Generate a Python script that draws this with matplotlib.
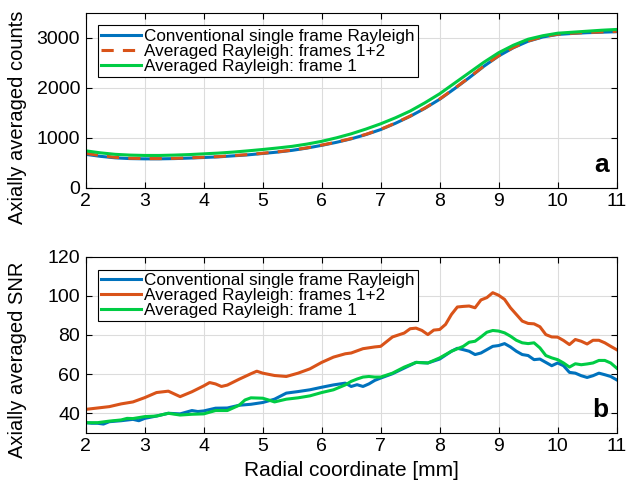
import numpy as np
import matplotlib
matplotlib.use("Agg")
import matplotlib.pyplot as plt

plt.rcParams['font.family'] = ['Liberation Sans', 'DejaVu Sans']

# ---- panel a: axially averaged counts (read at 0.25 mm steps)
xa = [2.0, 2.25, 2.5, 2.75, 3.0, 3.25, 3.5, 3.75, 4.0, 4.25, 4.5, 4.75, 5.0,
      5.25, 5.5, 5.75, 6.0, 6.25, 6.5, 6.75, 7.0, 7.25, 7.5, 7.75, 8.0, 8.25,
      8.5, 8.75, 9.0, 9.25, 9.5, 9.75, 10.0, 10.25, 10.5, 10.75, 11.0]
counts_conv = [670, 630, 600, 585, 580, 580, 585, 595, 607, 620, 640, 660, 687,
               715, 750, 795, 850, 910, 980, 1065, 1165, 1290, 1430, 1590, 1770, 1980,
               2200, 2430, 2635, 2800, 2930, 3015, 3065, 3085, 3100, 3110, 3120]
counts_avg12 = [690, 645, 610, 592, 585, 585, 590, 600, 612, 625, 645, 665, 692,
                720, 755, 800, 855, 915, 985, 1070, 1170, 1295, 1435, 1595, 1775, 1985,
                2205, 2435, 2640, 2805, 2935, 3020, 3070, 3090, 3105, 3115, 3125]
counts_avg1 = [740, 700, 670, 655, 648, 648, 655, 665, 680, 695, 715, 740, 767,
               797, 830, 875, 930, 1000, 1080, 1175, 1280, 1400, 1535, 1700, 1880, 2090,
               2300, 2510, 2700, 2850, 2970, 3040, 3090, 3110, 3130, 3150, 3165]

# ---- panel b: axially averaged SNR
xb_avg12 = [2.0, 2.2, 2.4, 2.6, 2.8, 3.0, 3.2, 3.4, 3.6, 3.8, 4.0, 4.1, 4.2, 4.3,
            4.4, 4.6, 4.8, 4.9, 5.0, 5.2, 5.4, 5.6, 5.8, 6.0, 6.2, 6.4, 6.5, 6.7,
            6.9, 7.0, 7.2, 7.4, 7.5, 7.6, 7.7, 7.8, 7.9, 8.0, 8.1, 8.2, 8.3, 8.4,
            8.5, 8.6, 8.7, 8.8, 8.9, 9.0, 9.1, 9.2, 9.3, 9.4, 9.5, 9.6, 9.7, 9.8,
            9.9, 10.0, 10.1, 10.2, 10.3, 10.4, 10.5, 10.6, 10.7, 10.8, 10.9, 11.0]
snr_avg12 = [42.0, 42.7, 43.4, 44.8, 45.8, 48.0, 50.6, 51.3, 48.5, 51.0, 54.0, 55.7,
             55.0, 53.7, 54.4, 57.4, 60.2, 61.5, 60.5, 59.3, 58.8, 60.5, 62.7, 66.0,
             68.7, 70.4, 70.8, 73.0, 73.9, 74.2, 79.0, 81.0, 83.2, 83.5, 82.3, 80.2,
             82.5, 82.8, 85.4, 90.5, 94.3, 94.6, 94.8, 93.9, 97.9, 99.1, 101.6, 100.3,
             98.2, 93.9, 90.5, 87.1, 85.9, 85.7, 84.2, 80.2, 79.0, 78.9, 77.2, 75.1,
             77.7, 76.8, 75.4, 77.3, 77.3, 76.0, 74.2, 72.5]

xb_conv = [2.0, 2.1, 2.2, 2.3, 2.4, 2.6, 2.8, 2.9, 3.0, 3.2, 3.4, 3.6, 3.8, 3.9,
           4.0, 4.2, 4.4, 4.6, 4.8, 5.0, 5.2, 5.4, 5.6, 5.8, 6.0, 6.2, 6.4, 6.5,
           6.6, 6.7, 6.8, 6.9, 7.0, 7.2, 7.4, 7.6, 7.8, 8.0, 8.2, 8.3, 8.4, 8.5,
           8.6, 8.7, 8.8, 8.9, 9.0, 9.1, 9.2, 9.3, 9.4, 9.5, 9.6, 9.7, 9.8, 9.9,
           10.0, 10.1, 10.2, 10.3, 10.4, 10.5, 10.6, 10.7, 10.8, 10.9, 11.0]
snr_conv = [35.2, 34.9, 34.9, 34.5, 35.7, 36.2, 36.9, 36.2, 37.4, 38.6, 40.0, 39.7,
            41.4, 40.9, 41.2, 42.6, 42.7, 44.1, 44.6, 45.5, 47.2, 50.3, 51.1, 52.0,
            53.3, 54.5, 55.4, 53.7, 54.6, 53.7, 55.0, 56.8, 58.0, 60.2, 63.1, 66.0,
            65.7, 67.7, 71.7, 73.2, 72.5, 71.7, 70.0, 70.8, 72.5, 74.2, 74.6, 75.6,
            73.9, 71.7, 70.0, 69.5, 67.4, 67.7, 66.0, 64.3, 65.7, 64.3, 60.9, 60.5,
            59.2, 58.3, 59.2, 60.5, 59.7, 58.8, 57.1]

xb_avg1 = [2.0, 2.2, 2.4, 2.6, 2.7, 2.8, 3.0, 3.2, 3.4, 3.6, 3.8, 4.0, 4.2, 4.4,
           4.6, 4.7, 4.8, 5.0, 5.1, 5.2, 5.4, 5.6, 5.8, 6.0, 6.2, 6.4, 6.5, 6.6,
           6.7, 6.8, 6.9, 7.0, 7.2, 7.4, 7.6, 7.8, 8.0, 8.2, 8.4, 8.5, 8.6, 8.7,
           8.8, 8.9, 9.0, 9.1, 9.2, 9.3, 9.4, 9.5, 9.6, 9.7, 9.8, 9.9, 10.0, 10.1,
           10.2, 10.3, 10.4, 10.5, 10.6, 10.7, 10.8, 10.9, 11.0]
snr_avg1 = [35.2, 35.2, 36.0, 36.6, 37.4, 37.3, 38.3, 38.6, 40.0, 39.1, 39.5, 39.7,
            41.4, 41.4, 44.1, 46.8, 47.9, 47.7, 46.8, 45.8, 47.2, 47.9, 48.9, 50.6,
            52.0, 54.5, 56.3, 57.5, 58.5, 58.8, 58.5, 58.5, 60.5, 63.6, 66.0, 65.7,
            68.3, 71.7, 74.2, 76.3, 76.8, 79.0, 81.4, 82.3, 82.0, 81.1, 79.4, 77.3,
            76.0, 75.6, 76.0, 73.4, 69.5, 68.3, 67.4, 65.7, 63.6, 65.3, 64.8, 65.2,
            65.7, 67.0, 67.0, 65.7, 63.1]

labels = ["Conventional single frame Rayleigh",
          "Averaged Rayleigh: frames 1+2",
          "Averaged Rayleigh: frame 1"]
c_blue = "#0072BD"
c_orange = "#D95319"
c_green = "#00CC44"

fig = plt.figure(figsize=(6.26, 4.88), dpi=100)
ax1 = fig.add_axes([0.137, 0.615, 0.848, 0.359])
ax2 = fig.add_axes([0.137, 0.113, 0.848, 0.361])

ax1.plot(xa, counts_conv, color=c_blue, lw=2.2, label=labels[0])
ax1.plot(xa, counts_avg12, color=c_orange, lw=2.2, ls=(0, (4, 3)), label=labels[1])
ax1.plot(xa, counts_avg1, color=c_green, lw=2.2, label=labels[2])
ax1.set_ylim(0, 3500)
ax1.set_yticks([0, 1000, 2000, 3000])
ax1.set_ylabel("Axially averaged counts", fontsize=14.5)
ax1.yaxis.set_label_coords(-0.11, 0.40)
ax1.text(0.985, 0.06, "a", transform=ax1.transAxes, ha="right", va="bottom",
         fontsize=19, fontweight="bold")

ax2.plot(xb_conv, snr_conv, color=c_blue, lw=2.2, label=labels[0])
ax2.plot(xb_avg12, snr_avg12, color=c_orange, lw=2.2, label=labels[1])
ax2.plot(xb_avg1, snr_avg1, color=c_green, lw=2.2, label=labels[2])
ax2.set_ylim(30, 120)
ax2.set_yticks([40, 60, 80, 100, 120])
ax2.set_ylabel("Axially averaged SNR", fontsize=14.5)
ax2.yaxis.set_label_coords(-0.11, 0.415)
ax2.set_xlabel("Radial coordinate [mm]", fontsize=15, labelpad=4)
ax2.text(0.985, 0.06, "b", transform=ax2.transAxes, ha="right", va="bottom",
         fontsize=19, fontweight="bold")

for ax in (ax1, ax2):
    ax.set_xlim(2, 11)
    ax.set_xticks(range(2, 12))
    ax.grid(True, color="#dcdcdc", lw=0.8)
    ax.set_axisbelow(True)
    ax.tick_params(direction="in", top=True, right=True, labelsize=14, length=4, pad=4)
    for s in ax.spines.values():
        s.set_linewidth(0.8)
    leg = ax.legend(loc="upper left", bbox_to_anchor=(0.023, 0.927), fontsize=12.3,
                    fancybox=False, framealpha=1, edgecolor="black",
                    handlelength=2.3, borderpad=0.2, labelspacing=0.0,
                    handletextpad=0.2, borderaxespad=0)
    leg.get_frame().set_linewidth(0.8)

fig.savefig("out.png", dpi=100)
